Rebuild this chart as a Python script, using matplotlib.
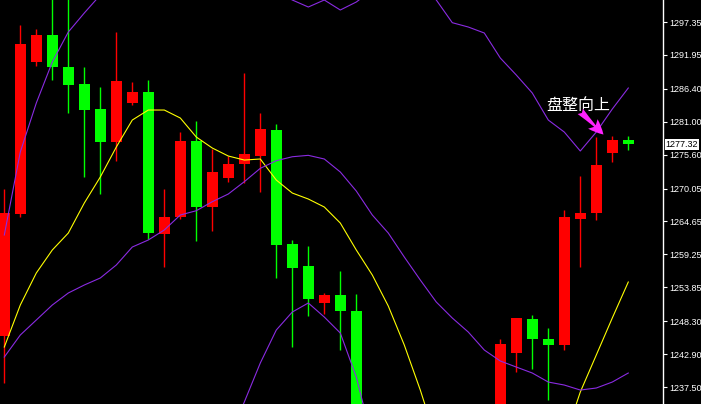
import matplotlib
matplotlib.use('Agg')
import matplotlib.pyplot as plt
import numpy as np

nan = np.nan

# candle data, one entry per bar (bars 23..30 fall below the visible window)
opens = [1245.9, 1265.9, 1290.8, 1295.3, 1290.0, 1287.2, 1283.1, 1277.6, 1284.1, 1285.9,
         1262.6, 1265.3, 1277.8, 1267.1, 1271.8, 1274.0, 1275.4, 1279.6, 1261.0, 1257.3,
         1251.3, 1252.6, 1250.0] + [nan] * 8 + \
        [1232.0, 1243.1, 1248.7, 1245.4, 1244.4, 1265.1, 1266.1, 1275.9, 1278.0]
highs = [1270.0, 1296.9, 1296.2, 1302.0, 1303.0, 1290.0, 1286.7, 1295.7, 1287.5, 1287.8,
         1270.0, 1279.3, 1281.1, 1276.6, 1275.4, 1289.0, 1282.4, 1280.6, 1261.6, 1260.6,
         1252.9, 1256.5, 1252.8] + [nan] * 8 + \
        [1245.4, 1248.9, 1249.3, 1247.2, 1266.6, 1272.1, 1278.5, 1278.7, 1278.7]
lows = [1238.2, 1265.3, 1290.2, 1287.9, 1282.5, 1272.0, 1269.2, 1274.6, 1283.8, 1261.8,
        1257.2, 1265.1, 1261.5, 1263.1, 1271.2, 1271.0, 1269.4, 1255.4, 1244.1, 1249.2,
        1249.4, 1243.6, 1228.0] + [nan] * 8 + \
       [1230.0, 1240.0, 1240.5, 1235.3, 1243.5, 1257.2, 1264.9, 1274.4, 1276.4]
closes = [1266.1, 1293.8, 1295.3, 1289.9, 1287.1, 1283.0, 1277.7, 1287.7, 1285.9, 1262.8,
          1265.4, 1277.8, 1267.1, 1272.8, 1274.1, 1275.7, 1279.8, 1260.8, 1257.1, 1252.0,
          1252.6, 1249.9, 1230.0] + [nan] * 8 + \
         [1244.6, 1248.9, 1245.3, 1244.4, 1265.3, 1266.0, 1273.9, 1278.0, 1277.32]

yellow_ma = [1244.06, 1250.95, 1256.20, 1259.97, 1262.75, 1267.67, 1271.94, 1276.85, 1281.28, 1282.92,
             1282.92, 1281.61, 1278.49, 1276.69, 1275.38, 1274.72, 1274.89, 1271.44, 1269.31, 1268.33,
             1267.02, 1264.39, 1259.97, 1255.87, 1250.78, 1244.39, 1237.01, 1228.81, nan, nan,
             nan, nan, nan, nan, nan, 1228.81, 1236.68, 1242.75, 1248.82, 1254.72]
band_mid = [1242.42, 1246.03, 1248.49, 1250.95, 1252.92, 1254.23, 1255.38, 1257.51, 1260.46, 1261.61,
            1263.25, 1265.71, 1266.41, 1267.89, 1269.15, 1271.17, 1273.36, 1274.61, 1275.26, 1275.49,
            1274.89, 1272.76, 1269.64, 1265.71, 1262.75, 1258.82, 1255.05, 1251.44, 1248.82, 1246.52,
            1243.57, 1241.77, 1240.78, 1239.80, 1238.32, 1237.83, 1237.01, 1237.34, 1238.32, 1239.80]
band_up = [1262.43, 1276.04, 1284.07, 1290.79, 1295.71, 1298.83, 1301.78, nan, nan, nan,
           nan, nan, nan, nan, nan, nan, nan, 1302.27, 1300.96, 1299.81,
           1300.96, 1299.32, 1300.63, 1302.60, nan, nan, 1303.42, 1300.96, 1297.24, 1296.53,
           1295.55, 1291.45, 1288.66, 1285.71, 1281.28, 1279.31, 1276.20, 1279.31, 1283.08, 1286.53]
band_low = [nan] * 14 + [1228.81, 1235.04, 1241.44, 1246.85, 1249.80, 1251.28,
                         1248.98, 1246.36, 1239.14, 1228.81] + [nan] * 16

tick_vals = [1297.35, 1291.95, 1286.40, 1281.00, 1275.60, 1270.05,
             1264.65, 1259.25, 1253.85, 1248.30, 1242.90, 1237.50]
last_price = 1277.32

RED = '#ff0000'
GREEN = '#00ff00'
PURPLE = '#8a2be2'


def draw_candles(ax, o, h, l, c, width=0.69):
    o, h, l, c = [np.array(v, float) for v in (o, h, l, c)]
    x = np.arange(len(o))
    ok = ~np.isnan(o)
    up = ok & (c >= o)
    dn = ok & (c < o)
    for m, col in ((up, RED), (dn, GREEN)):
        ax.vlines(x[m], l[m], h[m], color=col, lw=1.0, zorder=2)
        bottom = np.minimum(o[m], c[m])
        height = np.maximum(np.abs(c[m] - o[m]), 0.3)
        ax.bar(x[m], height, width=width, bottom=bottom, color=col,
               linewidth=0, zorder=3)


fig = plt.figure(figsize=(7.01, 4.04), dpi=100, facecolor='black')
ax = fig.add_axes([0, 0, 663 / 701, 1], facecolor='black')

draw_candles(ax, opens, highs, lows, closes)

xs = np.arange(len(band_mid))
ax.plot(xs, yellow_ma, color='#ffff00', lw=0.8, zorder=4)
ax.plot(xs, band_mid, color=PURPLE, lw=0.8, zorder=4)
ax.plot(xs, band_up, color=PURPLE, lw=0.8, zorder=4)
ax.plot(xs, band_low, color=PURPLE, lw=0.8, zorder=4)

ax.set_xlim(-0.269, 41.17)
ax.set_ylim(1234.72, 1300.96)

for s in ['top', 'bottom', 'left']:
    ax.spines[s].set_visible(False)
ax.spines['right'].set_color('white')
ax.spines['right'].set_linewidth(1.0)
ax.set_xticks([])
ax.yaxis.tick_right()
ax.set_yticks(tick_vals)
ax.set_yticklabels(['%.2f' % v for v in tick_vals])
ax.tick_params(axis='y', colors='white', length=3, width=0.8, pad=1.5,
               labelsize=6.5)
for t in ax.get_yticklabels():
    t.set_fontfamily('Liberation Sans')

# current price box
ax.text(1.004, last_price, '%.2f' % last_price, transform=ax.get_yaxis_transform(),
        ha='left', va='center', fontsize=6.5, family='Liberation Sans', color='black',
        bbox=dict(boxstyle='square,pad=0.12', fc='white', ec='none'), clip_on=False,
        zorder=10)

# annotation
ax.text(33.9, 1283.7, '盘整向上', color='white', fontsize=11.5,
        family=['Noto Sans CJK SC', 'DejaVu Sans'], ha='left', va='center', zorder=6)
ax.annotate('', xy=(37.45, 1278.9), xytext=(36.0, 1282.7),
            arrowprops=dict(arrowstyle='fancy,head_width=0.8,head_length=0.9,tail_width=0.45',
                            color='#ff22ff', lw=0, mutation_scale=12,
                            shrinkA=0, shrinkB=0), zorder=6)

fig.savefig('out.png', dpi=100, facecolor='black')
